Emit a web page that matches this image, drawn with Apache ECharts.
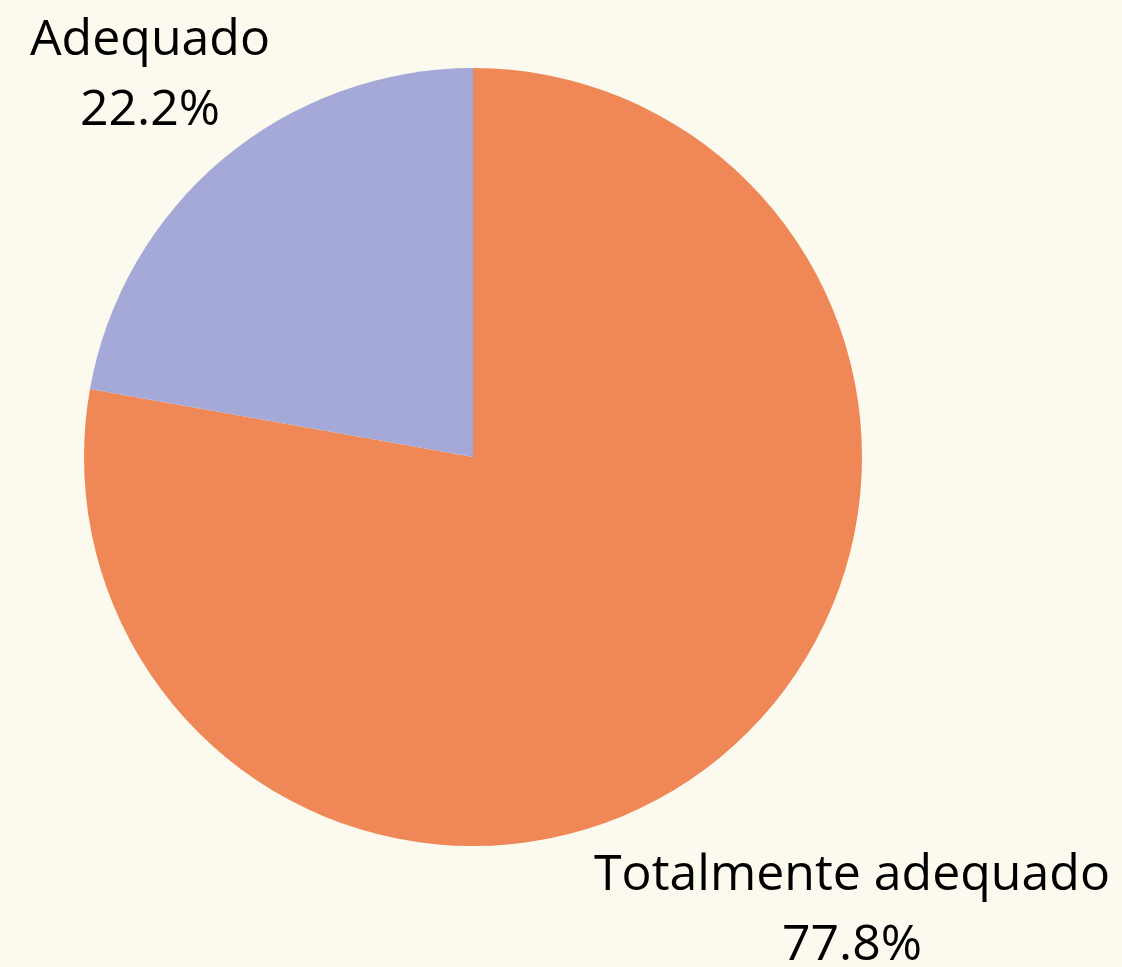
<!DOCTYPE html>
<html>
<head>
<meta charset="utf-8">
<script src="https://cdn.jsdelivr.net/npm/echarts@6/dist/echarts.min.js"></script>
<style>
  html, body { margin: 0; padding: 0; background: #fcf9ee; }
  #chart { width: 1122px; height: 967px; }
</style>
</head>
<body>
<div id="chart"></div>
<script>
// slice data, in drawing order (clockwise from 12 o'clock)
const categories = ['Totalmente adequado', 'Adequado'];
const shares = [77.8, 22.2];
const sliceColors = ['#ef8856', '#a5a9d8'];

// where each label block sits (centre of the two lines)
const labelSpots = [
  { x: 852, y: 911 },
  { x: 150, y: 76 }
];

const chart = echarts.init(document.getElementById('chart'), null, { renderer: 'canvas' });

chart.setOption({
  backgroundColor: '#fcf9ee',
  animation: false,
  series: [{
    type: 'pie',
    center: [473, 457],
    radius: [0, 389],
    startAngle: 90,
    clockwise: true,
    avoidLabelOverlap: false,
    data: categories.map((name, i) => ({
      name: name,
      value: shares[i],
      itemStyle: { color: sliceColors[i] }
    })),
    itemStyle: { borderWidth: 0 },
    label: {
      show: true,
      position: 'outside',
      formatter: (p) => p.name + '\n' + p.value.toFixed(1) + '%',
      fontFamily: 'Open Sans',
      fontSize: 50,
      lineHeight: 70,
      color: '#000',
      align: 'center'
    },
    labelLine: { show: false },
    labelLayout: (params) => {
      const spot = labelSpots[params.dataIndex];
      return { x: spot.x, y: spot.y, align: 'center', verticalAlign: 'middle' };
    },
    emphasis: { disabled: true }
  }]
});
</script>
</body>
</html>
